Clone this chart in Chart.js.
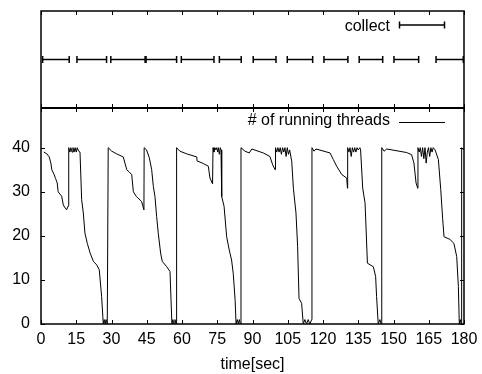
<!DOCTYPE html>
<html><head><meta charset="utf-8">
<script src="https://cdn.jsdelivr.net/npm/chart.js@4/dist/chart.umd.min.js"></script>
<style>html,body{margin:0;padding:0;background:#fff;}canvas{display:block;}</style>
</head><body>
<canvas id="c" width="482" height="374"></canvas>
<script>
// collect intervals (seconds)
const collectStart = [0.7, 15.3, 29.7, 44.7, 59.7, 75.9, 90.3, 104.8, 120.4, 135.4, 150.2, 168.1];
const collectEnd   = [12.0, 27.9, 44.3, 57.7, 73.6, 85.2, 100.0, 115.6, 130.6, 145.4, 160.7, 179.7];

// # of running threads
const threadTime = [
 1.2,2.5,3.5,4.2,4.6,5.5,6.2,6.9,7.3,8.0,8.8,9.5,10.3,10.9,11.6,11.8,12.3,12.7,13.2,13.6,14.1,14.5,15.0,15.4,16.0,16.6,17.3,18.0,18.7,19.7,20.9,22.3,23.7,24.8,25.8,26.5,26.9,27.3,27.7,28.2,28.6,
 30.1,32.2,35.0,36.5,37.5,38.6,39.3,40.6,42.8,43.8,43.9,44.9,46.1,47.1,47.8,48.5,49.2,49.9,50.9,51.6,53.5,54.9,55.7,56.1,56.6,57.0,57.5,57.7,
 59.1,62.0,66.3,66.4,69.1,71.2,71.9,73.0,73.2,73.6,74.0,74.4,74.8,75.2,75.5,75.9,76.3,76.6,76.9,77.9,79.0,80.1,81.1,81.8,82.6,83.0,83.5,84.0,84.4,84.8,85.1,
 86.8,88.6,89.7,94.6,97.4,98.6,99.6,99.8,100.3,100.8,101.3,101.8,102.3,102.8,103.3,103.8,104.3,104.8,105.3,105.8,106.7,107.4,108.5,109.2,109.8,110.9,111.6,112.3,113.0,113.7,114.4,115.2,115.3,
 116.2,117.0,123.0,124.4,125.8,128.0,130.1,130.4,130.5,131.0,131.5,132.0,132.5,133.0,133.5,134.0,134.5,135.0,135.7,136.0,136.9,137.9,138.9,141.4,142.4,142.8,143.5,144.2,144.8,145.0,
 146.0,147.1,155.6,157.7,158.7,159.6,160.3,160.4,160.9,161.4,161.9,162.4,162.9,163.4,163.9,164.4,164.9,165.4,165.9,166.4,166.9,167.7,169.1,170.1,170.9,171.5,174.0,175.7,176.9,177.6,178.0,178.4,178.8,179.0,179.8
];
const threadCount = [
 39,38.6,37.9,36.5,35,34,33,32,30,29.5,29,27,26.3,25.9,26.8,40,39,40,39,40,39,40,39,40,39.2,39,28.2,25.2,20.6,18.3,16.1,14.2,13.4,12.3,6.2,0,1,0,1,0,40,
 39.2,38.6,37.9,35,34.5,33.9,30,28.9,27.8,25.9,40,39.5,37.7,35,31.2,28.9,24.4,20.6,16.1,14.2,13,11.9,0,1,0,1,0,40,
 39.2,38.6,37.9,37,36.4,35.8,33.1,31.8,40,39,40,39.5,40,39,40,38.5,40,39.5,28.9,26.7,19.8,16.8,14.5,11.5,5.5,0,1,0,1,0,40,
 39.2,38.8,39.7,38.8,38,36.1,35,40,39,40,39,40,38.5,40,39,40,38,40,38.5,39.5,36.9,30.8,25.2,17.6,5.8,4.7,0,1,0,1,0,1,40,
 39.2,39.7,38.8,37.3,35.8,33.9,33.1,30.8,40,39,40,38,40,39,40,39,40,39.5,40,39.5,30.8,27.4,13.8,13,10.8,6.2,0,1,0,40,
 39.2,39.7,38.9,38.4,36.5,32,30.8,40,39,40,38,40,37.5,40,36.5,39,40,38,40,39,40,39.5,37.3,30.5,24,19.8,19.2,18.3,15.3,8.5,0,1,0,40,39.5
];

const xTickValues = [0,15,30,45,60,75,90,105,120,135,150,165,180];
const yTickValues = [0,10,20,30,40];

const FONT = '"Liberation Sans", Arial, Helvetica, sans-serif';
const FS = 16;

const collectData = [];
collectStart.forEach((s, i) => {
  collectData.push({x: s, y: 1}, {x: collectEnd[i], y: 1}, {x: collectEnd[i], y: null});
});
const threadData = threadTime.map((t, i) => ({x: t, y: threadCount[i]}));

function zeroPad(s) { s.paddingTop = 0; s.paddingBottom = 0; s.paddingLeft = 0; s.paddingRight = 0; }

const frame = {
  id: 'frame',
  afterDatasetsDraw(chart) {
    const ctx = chart.ctx, xs = chart.scales.x, ys = chart.scales.y, ts = chart.scales.y2;
    const L = chart.chartArea.left, R = chart.chartArea.right;
    const tl = 4;
    ctx.save();
    ctx.strokeStyle = '#000';
    ctx.lineWidth = 1;
    ctx.beginPath();
    xs.ticks.forEach(t => {
      const px = Math.round(xs.getPixelForValue(t.value)) + 0.5;
      ctx.moveTo(px, ys.bottom); ctx.lineTo(px, ys.bottom - tl);
      ctx.moveTo(px, ys.top); ctx.lineTo(px, ys.top + tl);
      ctx.moveTo(px, ts.bottom); ctx.lineTo(px, ts.bottom - tl);
      ctx.moveTo(px, ts.top); ctx.lineTo(px, ts.top + tl);
    });
    ys.ticks.forEach(t => {
      const py = Math.round(ys.getPixelForValue(t.value)) + 0.5;
      ctx.moveTo(L, py); ctx.lineTo(L + tl, py);
      ctx.moveTo(R, py); ctx.lineTo(R - tl, py);
    });
    ctx.stroke();
    ctx.lineWidth = 1.5;
    ctx.strokeRect(L, ts.top, R - L, ys.bottom - ts.top);
    ctx.beginPath(); ctx.lineWidth = 2;
    ctx.moveTo(L, ys.top); ctx.lineTo(R, ys.top); ctx.stroke();

    // keys
    ctx.font = FS + 'px ' + FONT;
    ctx.fillStyle = '#000';
    ctx.textAlign = 'right';
    ctx.textBaseline = 'alphabetic';
    const d0 = chart.data.datasets[0], d1 = chart.data.datasets[1];
    const tx = R - 74, s0 = R - 65, s1 = R - 19;
    // collect key
    ctx.fillText(d0.label, tx, ts.top + 20);
    let ky = Math.round(ts.top + 13.5);
    ctx.lineWidth = 1.5;
    ctx.beginPath();
    ctx.moveTo(s0, ky); ctx.lineTo(s1, ky);
    ctx.moveTo(s0 + 0.5, ky - 3.5); ctx.lineTo(s0 + 0.5, ky + 3.5);
    ctx.moveTo(s1 - 0.5, ky - 3.5); ctx.lineTo(s1 - 0.5, ky + 3.5);
    ctx.stroke();
    // threads key
    ctx.fillText(d1.label, tx, ys.top + 17);
    ky = Math.round(ys.top + 14) + 0.5;
    ctx.lineWidth = 1;
    ctx.strokeStyle = d1.borderColor;
    ctx.beginPath();
    ctx.moveTo(s0, ky); ctx.lineTo(s1, ky);
    ctx.stroke();
    ctx.restore();
  }
};

new Chart(document.getElementById('c'), {
  type: 'line',
  data: {
    datasets: [
      {
        label: 'collect', data: collectData, yAxisID: 'y2',
        borderColor: '#000', borderWidth: 1.5, spanGaps: false,
        pointStyle: 'line', pointRotation: 90, pointRadius: 3.5, pointHoverRadius: 3.5,
        pointBorderColor: '#000', pointBorderWidth: 1.5, tension: 0
      },
      {
        label: '# of running threads', data: threadData, yAxisID: 'y',
        borderColor: '#000', borderWidth: 1, pointRadius: 0, tension: 0
      }
    ]
  },
  options: {
    responsive: false,
    animation: false,
    layout: { padding: { left: 0, right: 18, top: 11, bottom: 0 } },
    plugins: { legend: { display: false }, tooltip: { enabled: false } },
    scales: {
      x: {
        type: 'linear', min: 0, max: 180,
        afterBuildTicks: s => { s.ticks = xTickValues.map(v => ({value: v})); },
        ticks: { autoSkip: false, maxRotation: 0, minRotation: 0, font: {family: FONT, size: FS}, color: '#000', padding: 6 },
        grid: { display: false, drawTicks: false },
        border: { display: false },
        title: { display: true, text: 'time[sec]', font: {family: FONT, size: FS}, color: '#000', padding: {top: 9, bottom: 0} },
        afterFit: s => { s.height = 50; zeroPad(s); }
      },
      y: {
        type: 'linear', position: 'left', stack: 'panels', stackWeight: 216, min: 0, max: 49,
        afterBuildTicks: s => { s.ticks = yTickValues.map(v => ({value: v})); },
        ticks: { font: {family: FONT, size: FS}, color: '#000', padding: 11 },
        grid: { display: false, drawTicks: false },
        border: { display: false },
        afterFit: s => { s.width = 41; zeroPad(s); }
      },
      y2: {
        type: 'linear', position: 'left', stack: 'panels', stackWeight: 97, min: 0, max: 2,
        ticks: { display: false },
        grid: { display: false, drawTicks: false },
        border: { display: false },
        afterFit: s => { s.width = 41; zeroPad(s); }
      }
    }
  },
  plugins: [frame]
});
</script>
</body></html>
